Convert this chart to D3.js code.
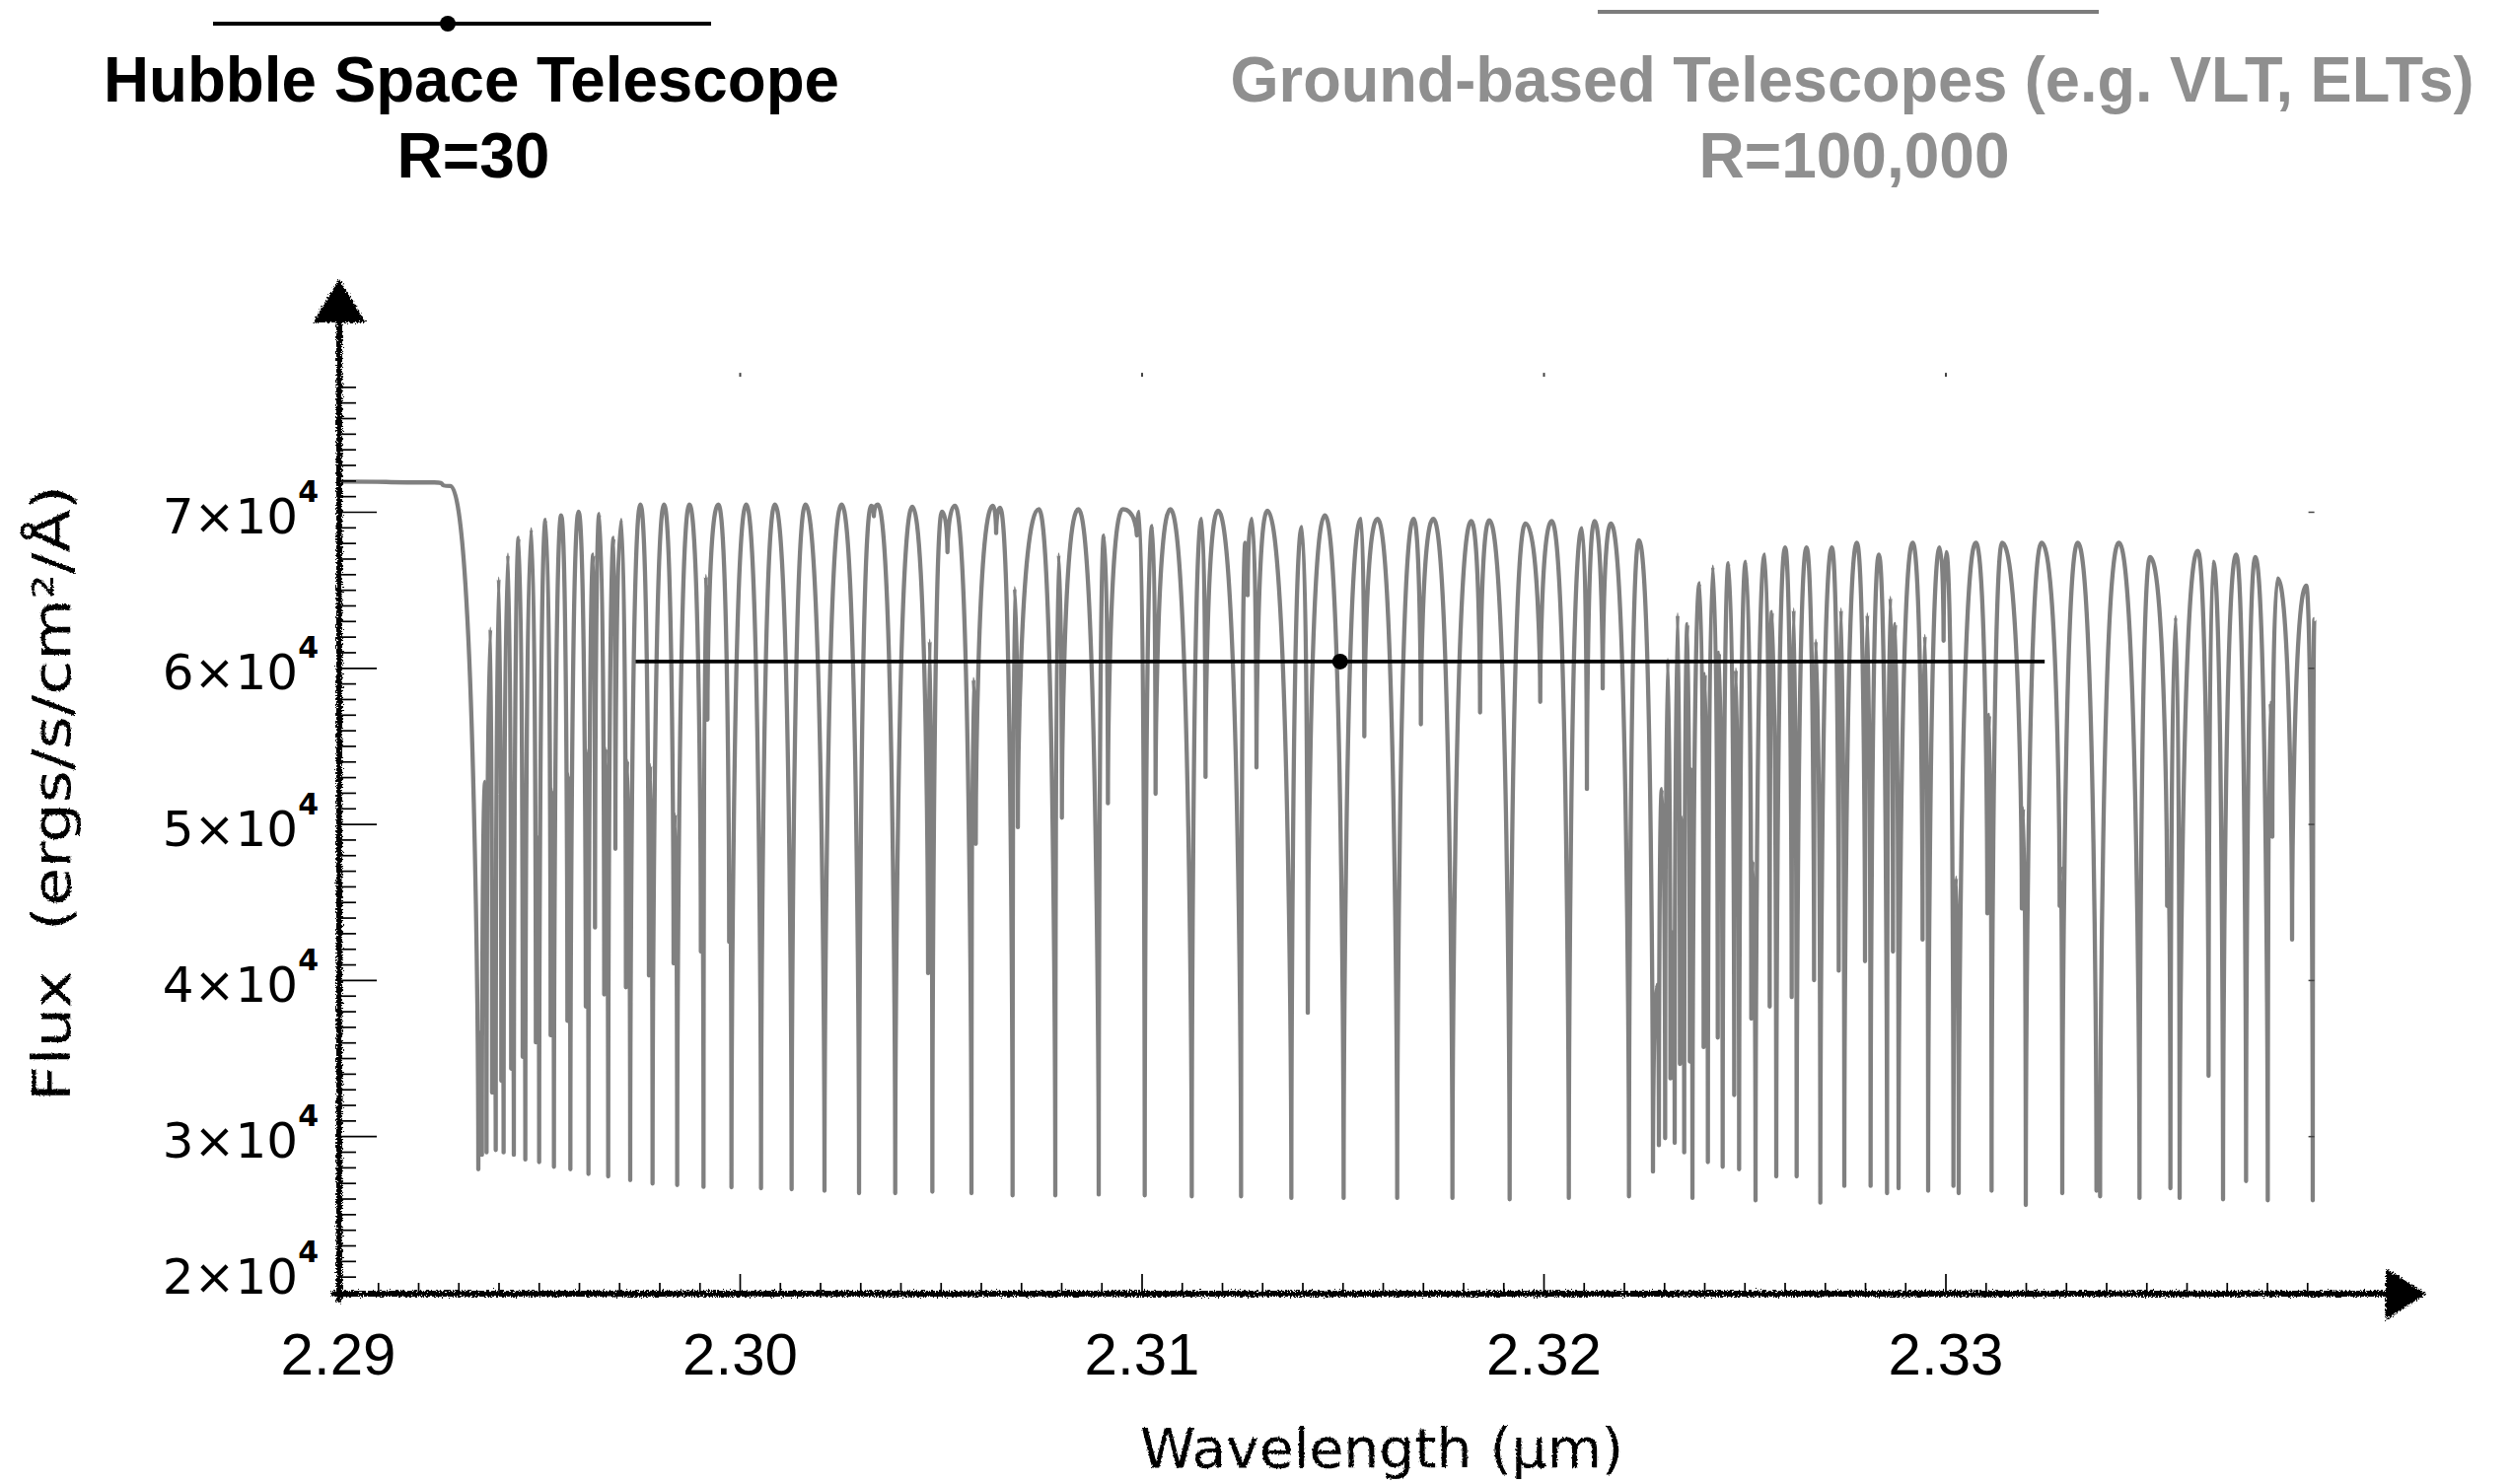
<!DOCTYPE html>
<html>
<head>
<meta charset="utf-8">
<script src="https://cdn.jsdelivr.net/npm/d3@7"></script>
<style>
html, body { margin: 0; padding: 0; background: #fff; }
svg { display: block; }
</style>
</head>
<body>
<script>
// spectrum vertices: wavelength (micron) and flux (ergs/s/cm2/A)
// local maxima and minima alternate, the curve below rounds the tops and sharpens the cores
var specWl = [
  2.29000, 2.29240, 2.29280,
  2.293497, 2.293537, 2.293586, 2.293668, 2.293701, 2.293799, 2.293840, 2.293873,
  2.293930, 2.294004, 2.294069, 2.294094, 2.294126, 2.294233, 2.294314, 2.294347,
  2.294380, 2.294503, 2.294601, 2.294625, 2.294666, 2.294813, 2.294928, 2.294969,
  2.295010, 2.295173, 2.295296, 2.295329, 2.295378, 2.295558, 2.295713, 2.295746,
  2.295787, 2.295991, 2.296171, 2.296196, 2.296237, 2.296359, 2.296400, 2.296507,
  2.296629, 2.296662, 2.296728, 2.296867, 2.296907, 2.297055, 2.297169, 2.297202,
  2.297276, 2.297529, 2.297742, 2.297775, 2.297832, 2.298118, 2.298355, 2.298388,
  2.298445, 2.298748, 2.299034, 2.299067, 2.299100, 2.299157, 2.299198, 2.299468,
  2.299738, 2.299762, 2.299795, 2.300163, 2.300531, 2.300875, 2.301292, 2.301636,
  2.302110,
  2.302536, 2.302970, 2.303272, 2.303338, 2.303436, 2.303870, 2.304295, 2.304688,
  2.304728, 2.304794, 2.305031, 2.305170, 2.305358, 2.305767, 2.305816, 2.305874,
  2.306299, 2.306381, 2.306479, 2.306790, 2.306839, 2.306921, 2.307444, 2.307853,
  2.307935, 2.308017, 2.308426, 2.308933, 2.309064, 2.309162, 2.309530, 2.309882,
  2.309939, 2.310078, 2.310266, 2.310348, 2.310716, 2.311248, 2.311493,
  2.311591, 2.311902, 2.312475, 2.312581, 2.312638, 2.312745, 2.312859, 2.313129,
  2.313726, 2.313988, 2.314135, 2.314561, 2.315027, 2.315460, 2.315542, 2.315869,
  2.316360, 2.316769, 2.316949, 2.317260, 2.317734, 2.318201, 2.318422, 2.318651,
  2.319158, 2.319550, 2.319919, 2.320205, 2.320630,
  2.320957, 2.321080, 2.321268, 2.321473, 2.321677, 2.322127, 2.322372, 2.322724,
  2.322822, 2.322871, 2.322945, 2.323027, 2.323092, 2.323158, 2.323215, 2.323264,
  2.323338, 2.323395, 2.323444, 2.323501, 2.323583, 2.323640, 2.323673, 2.323706,
  2.323886, 2.323984, 2.324016, 2.324090, 2.324213, 2.324336, 2.324368, 2.324458,
  2.324605, 2.324745, 2.324785, 2.324867, 2.325031, 2.325170, 2.325203, 2.325276,
  2.325505, 2.325628, 2.325685, 2.325792, 2.326012, 2.326176, 2.326225, 2.326299,
  2.326544, 2.326732, 2.326773, 2.326888, 2.327174, 2.327346, 2.327403, 2.327485,
  2.327796, 2.328000, 2.328057, 2.328139, 2.328344, 2.328548, 2.328630, 2.328695,
  2.328753, 2.328835, 2.329186, 2.329432, 2.329489, 2.329571, 2.329857, 2.329955,
  2.330021,
  2.330200, 2.330266, 2.330331, 2.330757, 2.331043, 2.331092, 2.331149, 2.331411,
  2.331902, 2.331935, 2.332000, 2.332393, 2.332843, 2.332867, 2.332908, 2.333292,
  2.333759, 2.333791, 2.333849, 2.334315, 2.334830, 2.335092, 2.335517, 2.335550,
  2.335599, 2.335730, 2.335828, 2.336278, 2.336548, 2.336663, 2.336908, 2.337235,
  2.337481, 2.337710, 2.338021, 2.338086, 2.338135, 2.338266, 2.338626, 2.338978,
  2.339140, 2.339180
];
var specFlux = [
  71940, 71880, 71650,
  27880, 36620, 28800, 52700, 28960, 62510, 32790, 40290,
  29110, 65720, 33550, 40290, 28960, 67260, 34320, 40290,
  28800, 68330, 35080, 44430, 28500, 68880, 36000, 49180,
  28340, 69490, 36460, 52240, 28040, 69770, 37380, 53160,
  27880, 70010, 38300, 54690, 27580, 67260, 43360, 69860,
  39070, 54850, 27420, 68330, 48410, 69490, 39530, 54080,
  27180, 70470, 40290, 53770, 26960, 70470, 41060, 50650,
  26870, 70470, 41820, 46570, 26750, 65880, 56680, 70470,
  42440, 45500, 26720, 70470, 26660, 70470, 26600, 70470,
  26500,
  70470, 26350, 70380, 69710, 70470, 26350, 70320, 40440,
  61740, 26440, 70010, 67410, 70380, 26350, 59290, 48720,
  70380, 68630, 70260, 26200, 65110, 49790, 70160, 26200,
  67260, 50400, 70160, 26260, 68480, 51320, 70160, 68480,
  70010, 26200, 69090, 51930, 70160, 26140, 69550,
  53010, 70070, 26140, 68020, 64650, 69550, 53620, 70070,
  26040, 69030, 37900, 69770, 26040, 69550, 55610, 69550,
  26040, 69550, 56380, 69550, 26040, 69400, 57140, 69460,
  25950, 69250, 57820, 69400, 26040,
  68940, 52240, 69400, 58680, 69250, 26140, 68170, 27730,
  39680, 29420, 52240, 29870, 60510, 33700, 43050, 29570,
  63420, 34620, 50400, 28960, 62810, 34780, 53470, 26040,
  65420, 35700, 59600, 28340, 66490, 36310, 60970, 28040,
  66700, 32630, 59900, 27880, 66800, 37530, 47650, 25890,
  67260, 38300, 63580, 27420, 67720, 38910, 63730, 27420,
  67720, 39990, 61740, 25740, 67720, 40600, 63730, 26810,
  68020, 41210, 63420, 26810, 67260, 26350, 64500, 41820,
  62810, 26660, 68020, 42590, 62050, 26500, 67720, 61740,
  67410,
  26810, 46570, 26350, 68020, 44270, 56990, 26500, 68020,
  44580, 51010, 25590, 68020, 44740, 47340, 26350, 68020,
  26500, 30640, 26140, 68020, 26040, 67100, 44740, 46110,
  26660, 63270, 26040, 67500, 33860, 66800, 25950, 67260,
  27120, 67100, 25890, 57760, 49180, 65720, 42590, 65260,
  25890, 63120
];

// Hubble R=30 bin
var hstRange = [2.29741, 2.33247];
var hstCenter = 2.31494;
var hstFlux = 60400;

// axes
var xDomain = [2.29, 2.33918];
var yDomain = [20000, 78900];
var xTickValues = [2.29, 2.30, 2.31, 2.32, 2.33];
var xTickLabels = ["2.29", "2.30", "2.31", "2.32", "2.33"];
var yTickValues = [20000, 30000, 40000, 50000, 60000, 70000];
var yTickMantissa = ["2", "3", "4", "5", "6", "7"];

var legendNames = ["Hubble Space Telescope", "Ground-based Telescopes (e.g. VLT, ELTs)"];
var legendRes = ["R=30", "R=100,000"];
var xTitle = "Wavelength (\u03bcm)";
var yTitle = "Flux  (ergs/s/cm\u00b2/\u00c5)";

var W = 2547, H = 1505;
var grey = "#808080";

var svg = d3.select("body").append("svg")
    .attr("width", W)
    .attr("height", H)
    .attr("xmlns", "http://www.w3.org/2000/svg");

svg.append("rect").attr("width", W).attr("height", H).attr("fill", "#fff");

// rough pen look for the hand drawn axes and titles
var defs = svg.append("defs");
function roughFilter(id, freq, scale) {
    var f = defs.append("filter").attr("id", id)
        .attr("filterUnits", "userSpaceOnUse")
        .attr("x", 0).attr("y", 0).attr("width", W).attr("height", H);
    f.append("feTurbulence").attr("type", "fractalNoise")
        .attr("baseFrequency", freq).attr("numOctaves", 2).attr("seed", 7).attr("result", "noise");
    f.append("feDisplacementMap").attr("in", "SourceGraphic").attr("in2", "noise")
        .attr("scale", scale).attr("xChannelSelector", "R").attr("yChannelSelector", "G");
}
roughFilter("rough", 0.6, 7);
roughFilter("scribble", 0.5, 3);

var x = d3.scaleLinear().domain(xDomain).range([342.5, 2346.6]);
var y = d3.scaleLinear().domain(yDomain).range([1310.5, 378.1]);

// broad rounded tops, vertical flanks into the line cores
var K = 0.9, M = 0.1;
function curveSpectrum(context) {
    var pts;
    return {
        areaStart: function() {},
        areaEnd: function() {},
        lineStart: function() { pts = []; },
        point: function(px, py) { pts.push([+px, +py]); },
        lineEnd: function() {
            var n = pts.length;
            if (!n) return;
            var isMin = pts.map(function(p, i) {
                return i > 0 && i < n - 1 && p[1] > pts[i - 1][1] && p[1] > pts[i + 1][1];
            });
            context.moveTo(pts[0][0], pts[0][1]);
            for (var i = 1; i < n; i++) {
                var a = pts[i - 1], b = pts[i];
                var dx = b[0] - a[0], dy = b[1] - a[1];
                var c1 = isMin[i - 1] ? [a[0], a[1] + M * dy] : [a[0] + K * dx, a[1]];
                var c2 = isMin[i] ? [b[0], b[1] - M * dy] : [b[0] - K * dx, b[1]];
                context.bezierCurveTo(c1[0], c1[1], c2[0], c2[1], b[0], b[1]);
            }
        }
    };
}

var spec = d3.zip(specWl, specFlux);
svg.append("path")
    .datum(spec)
    .attr("d", d3.line().x(function(d) { return x(d[0]); }).y(function(d) { return y(d[1]); }).curve(curveSpectrum))
    .attr("fill", "none")
    .attr("stroke", grey)
    .attr("stroke-width", 4.3)
    .attr("stroke-linejoin", "round");

// faint frame ticks on the top and right edges
svg.append("g")
    .attr("transform", "translate(0," + y.range()[1] + ")")
    .call(d3.axisBottom(x).tickValues(xTickValues.slice(1)).tickSize(4).tickFormat(""))
    .call(function(g) { g.select(".domain").remove(); })
    .selectAll("line").attr("stroke", "#444").attr("stroke-width", 2);
svg.append("g")
    .attr("transform", "translate(" + x.range()[1] + ",0)")
    .call(d3.axisLeft(y).tickValues(yTickValues.slice(1)).tickSize(6).tickFormat(""))
    .call(function(g) { g.select(".domain").remove(); })
    .selectAll("line").attr("stroke", "#444").attr("stroke-width", 1.5);

// HST bin
svg.append("line")
    .attr("x1", x(hstRange[0])).attr("x2", x(hstRange[1]))
    .attr("y1", y(hstFlux)).attr("y2", y(hstFlux))
    .attr("stroke", "#000").attr("stroke-width", 3.8);
svg.append("circle")
    .attr("cx", x(hstCenter)).attr("cy", y(hstFlux)).attr("r", 8)
    .attr("fill", "#000");

// tick marks
var axX = x(xDomain[0]) + 1.5;
var axY = y(yDomain[0]) + 1.5;

var yMinor = y.ticks(60).filter(function(v) { return v > yDomain[0] && v % 10000 !== 0; });
var xMinor = x.ticks(50).filter(function(v) {
    return v > xDomain[0] + 0.0005 && Math.abs(v * 100 - Math.round(v * 100)) > 1e-6;
});

function styleTicks(g) {
    g.select(".domain").remove();
    g.selectAll("line").attr("stroke", "#000").attr("stroke-width", 1.7);
}
svg.append("g").attr("transform", "translate(" + axX + ",0)")
    .call(d3.axisRight(y).tickValues(yMinor).tickSize(17).tickFormat("")).call(styleTicks);
svg.append("g").attr("transform", "translate(" + axX + ",0)")
    .call(d3.axisRight(y).tickValues(yTickValues.slice(1)).tickSize(38).tickFormat("")).call(styleTicks);
svg.append("g").attr("transform", "translate(0," + axY + ")")
    .call(d3.axisTop(x).tickValues(xMinor).tickSize(11).tickFormat("")).call(styleTicks);
svg.append("g").attr("transform", "translate(0," + axY + ")")
    .call(d3.axisTop(x).tickValues(xTickValues.slice(1)).tickSize(20).tickFormat("")).call(styleTicks);

// x tick labels
svg.append("g")
    .attr("transform", "translate(0," + axY + ")")
    .call(d3.axisBottom(x).tickValues(xTickValues)
        .tickFormat(function(d, i) { return xTickLabels[i]; })
        .tickSize(0).tickPadding(39))
    .call(function(g) { g.select(".domain").remove(); })
    .attr("font-family", "'Liberation Sans', Arial, sans-serif")
    .attr("font-size", 60)
    .selectAll("text").attr("fill", "#000");

// y tick labels, n x 10^4
var yl = svg.append("g").attr("font-family", "'DejaVu Sans', sans-serif").attr("fill", "#000");
yTickValues.forEach(function(v, i) {
    var base = v === yDomain[0] ? y(v) + 1 : y(v) + 22;
    var t = yl.append("text").attr("x", 323).attr("y", base).attr("text-anchor", "end");
    t.append("tspan").attr("font-size", 50).text(yTickMantissa[i] + "\u00d710");
    t.append("tspan").attr("font-size", 30).attr("font-weight", "bold").attr("dy", -32).text("4");
});

// hand drawn axes with arrow heads
var ax = svg.append("g").attr("filter", "url(#rough)");
ax.append("line")
    .attr("x1", axX).attr("x2", axX).attr("y1", axY + 6).attr("y2", 318)
    .attr("stroke", "#000").attr("stroke-width", 6).attr("stroke-linecap", "round");
ax.append("path")
    .attr("d", "M" + axX + ",285L" + (axX + 25) + ",326L" + (axX - 25) + ",326Z")
    .attr("fill", "#000").attr("stroke", "#000").attr("stroke-width", 2);
ax.append("line")
    .attr("x1", axX - 6).attr("x2", 2425).attr("y1", axY).attr("y2", axY)
    .attr("stroke", "#000").attr("stroke-width", 6).attr("stroke-linecap", "round");
ax.append("path")
    .attr("d", "M2458," + axY + "L2420," + (axY - 24) + "L2420," + (axY + 25) + "Z")
    .attr("fill", "#000").attr("stroke", "#000").attr("stroke-width", 2);

// axis titles
svg.append("g").attr("filter", "url(#scribble)")
  .append("text")
    .attr("x", 1401).attr("y", 1488)
    .attr("text-anchor", "middle")
    .attr("font-family", "'DejaVu Sans', sans-serif")
    .attr("font-size", 56)
    .attr("textLength", 490).attr("lengthAdjust", "spacingAndGlyphs")
    .text(xTitle);
svg.append("g").attr("filter", "url(#scribble)")
  .append("text")
    .attr("transform", "translate(71,804.5) rotate(-90)")
    .attr("text-anchor", "middle")
    .attr("font-family", "'DejaVu Sans', sans-serif")
    .attr("font-size", 53)
    .attr("textLength", 625).attr("lengthAdjust", "spacingAndGlyphs")
    .style("white-space", "pre")
    .text(yTitle);

// legend
var lg = svg.append("g")
    .attr("font-family", "'Liberation Sans', Arial, Helvetica, sans-serif")
    .attr("font-weight", "bold")
    .attr("font-size", 64)
    .attr("text-anchor", "middle");

lg.append("line").attr("x1", 216).attr("x2", 721).attr("y1", 24).attr("y2", 24)
    .attr("stroke", "#000").attr("stroke-width", 4);
lg.append("circle").attr("cx", 454).attr("cy", 24).attr("r", 8).attr("fill", "#000");
lg.append("text").attr("x", 478).attr("y", 103).attr("fill", "#000")
    .attr("textLength", 746).attr("lengthAdjust", "spacingAndGlyphs").text(legendNames[0]);
lg.append("text").attr("x", 480).attr("y", 180).attr("fill", "#000").text(legendRes[0]);

lg.append("line").attr("x1", 1620).attr("x2", 2128).attr("y1", 12).attr("y2", 12)
    .attr("stroke", "#7c7c7c").attr("stroke-width", 4);
lg.append("text").attr("x", 1878).attr("y", 103).attr("fill", "#8f8f8f")
    .attr("textLength", 1261).attr("lengthAdjust", "spacingAndGlyphs").text(legendNames[1]);
lg.append("text").attr("x", 1880).attr("y", 180).attr("fill", "#8f8f8f").text(legendRes[1]);
</script>
</body>
</html>
